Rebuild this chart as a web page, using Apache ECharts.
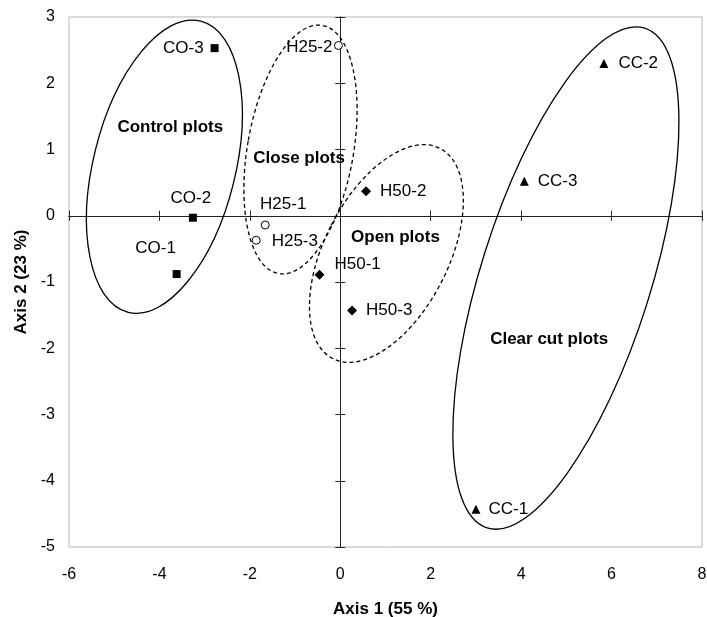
<!DOCTYPE html>
<html>
<head>
<meta charset="utf-8">
<script src="https://cdn.jsdelivr.net/npm/echarts@6/dist/echarts.min.js"></script>
<style>
html,body{margin:0;padding:0;background:#fff;}
#chart{width:707px;height:617px;}
</style>
</head>
<body>
<div id="chart"></div>
<script>
// ---- Data ----
const xTicks = [-6, -4, -2, 0, 2, 4, 6, 8];
const yTicks = [-5, -4, -3, -2, -1, 0, 1, 2, 3];

const controlNames = ['CO-1', 'CO-2', 'CO-3'];
const controlX = [-3.62, -3.26, -2.78];
const controlY = [-0.88, -0.03, 2.53];

const closeNames = ['H25-1', 'H25-2', 'H25-3'];
const closeX = [-1.66, -0.04, -1.86];
const closeY = [-0.14, 2.57, -0.37];

const openNames = ['H50-1', 'H50-2', 'H50-3'];
const openX = [-0.46, 0.57, 0.26];
const openY = [-0.89, 0.37, -1.43];

const clearNames = ['CC-1', 'CC-2', 'CC-3'];
const clearX = [3.00, 5.83, 4.07];
const clearY = [-4.43, 2.30, 0.52];

const groupLabels = ['Control plots', 'Close plots', 'Open plots', 'Clear cut plots'];
const groupLabelX = [-3.76, -0.91, 1.22, 4.62];
const groupLabelY = [1.34, 0.86, -0.32, -1.87];

// group envelope centres (data units)
const envelopeX = [-3.89, -0.88, 1.02, 4.99];
const envelopeY = [0.74, 1.00, -0.57, -0.94];

// ---- Styling / layout (not data) ----
const FONT = 'Liberation Sans, Arial, sans-serif';
// semi-axes in pixels and tilt of the major axis from vertical (degrees, clockwise)
const envelopeShape = [
  { rMinor: 71, rMajor: 150, tilt: 14, dashed: false },
  { rMinor: 53, rMajor: 126, tilt: 10, dashed: true },
  { rMinor: 62, rMajor: 118, tilt: 27, dashed: true },
  { rMinor: 85, rMajor: 262, tilt: 17.5, dashed: false }
];
const labelPlacement = {
  'CO-1': ['top', -21, -8.5],
  'CO-2': ['top', -2, -1.5],
  'CO-3': ['left', -2, 0],
  'H25-1': ['top', 18, -2.5],
  'H25-2': ['left', 3.5, 2],
  'H25-3': ['right', 6, 1.5],
  'H50-1': ['right', 5, -10],
  'H50-2': ['right', 4, 0],
  'H50-3': ['right', 4, 0],
  'CC-1': ['right', 3, 0],
  'CC-2': ['right', 5, 0],
  'CC-3': ['right', 4, 0]
};

function buildData(names, xs, ys) {
  return names.map((n, i) => {
    const p = labelPlacement[n];
    return {
      name: n,
      value: [xs[i], ys[i]],
      label: { position: p[0], offset: [p[1], p[2]] }
    };
  });
}

const pointLabel = {
  show: true,
  formatter: '{b}',
  color: '#000',
  opacity: 1,
  fontFamily: FONT,
  fontSize: 17,
  distance: 5
};

function scatter(name, data, symbol, size, itemStyle) {
  return {
    type: 'scatter',
    name: name,
    xAxisIndex: 0,
    yAxisIndex: 0,
    data: data,
    symbol: symbol,
    symbolSize: size,
    itemStyle: Object.assign({ opacity: 1 }, itemStyle),
    label: pointLabel,
    emphasis: { disabled: true },
    z: 5
  };
}

const xMin = xTicks[0], xMax = xTicks[xTicks.length - 1], xStep = xTicks[1] - xTicks[0];
const yMin = yTicks[0], yMax = yTicks[yTicks.length - 1], yStep = yTicks[1] - yTicks[0];

function zeroAxis(kind, inside) {
  return {
    type: 'value',
    min: kind === 'x' ? xMin : yMin,
    max: kind === 'x' ? xMax : yMax,
    interval: kind === 'x' ? xStep : yStep,
    position: kind === 'x' ? 'bottom' : 'left',
    axisLine: { show: true, onZero: true, onZeroAxisIndex: 0, lineStyle: { color: '#222', width: 1 } },
    axisTick: { show: true, inside: inside, length: 5, lineStyle: { color: '#222', width: 1 } },
    axisLabel: { show: false },
    splitLine: { show: false }
  };
}

const chart = echarts.init(document.getElementById('chart'), null, { renderer: 'canvas' });

chart.setOption({
  animation: false,
  backgroundColor: '#fff',
  grid: {
    left: 69, right: 5, top: 17, bottom: 70,
    containLabel: false,
    outerBoundsMode: 'none',
    show: true, borderColor: '#b4b4b4', borderWidth: 1, backgroundColor: 'transparent'
  },
  xAxis: [
    {
      type: 'value', min: xMin, max: xMax, interval: xStep, position: 'bottom',
      axisLine: { show: false, onZero: false },
      axisTick: { show: false },
      splitLine: { show: false },
      axisLabel: { color: '#000', fontFamily: FONT, fontSize: 16, margin: 20 },
      name: 'Axis 1 (55 %)', nameLocation: 'middle', nameGap: 54,
      nameTextStyle: { color: '#000', fontFamily: FONT, fontSize: 17, fontWeight: 'bold' }
    },
    zeroAxis('x', false),
    zeroAxis('x', true)
  ],
  yAxis: [
    {
      type: 'value', min: yMin, max: yMax, interval: yStep, position: 'left',
      axisLine: { show: false, onZero: false },
      axisTick: { show: false },
      splitLine: { show: false },
      axisLabel: { color: '#000', fontFamily: FONT, fontSize: 16, margin: 14 },
      name: 'Axis 2 (23 %)', nameLocation: 'middle', nameGap: 31,
      nameTextStyle: { color: '#000', fontFamily: FONT, fontSize: 17, fontWeight: 'bold' }
    },
    zeroAxis('y', false),
    zeroAxis('y', true)
  ],
  series: [
    scatter('Control', buildData(controlNames, controlX, controlY), 'rect', 8, { color: '#000' }),
    scatter('Close', buildData(closeNames, closeX, closeY), 'circle', 8,
      { color: '#fff', borderColor: '#000', borderWidth: 1 }),
    scatter('Open', buildData(openNames, openX, openY), 'diamond', 10, { color: '#000' }),
    scatter('Clear cut', buildData(clearNames, clearX, clearY), 'triangle', 9, { color: '#000' })
  ]
});

// envelopes and group names, positioned through the chart's own coordinate system
const graphics = [];
envelopeX.forEach((cx, i) => {
  const c = chart.convertToPixel({ gridIndex: 0 }, [cx, envelopeY[i]]);
  const s = envelopeShape[i];
  graphics.push({
    type: 'ellipse',
    x: c[0], y: c[1],
    rotation: -s.tilt * Math.PI / 180,
    shape: { cx: 0, cy: 0, rx: s.rMinor, ry: s.rMajor },
    style: { fill: null, stroke: '#000', lineWidth: 1.3, lineDash: s.dashed ? [4, 3] : null },
    silent: true,
    z: 3
  });
});
groupLabels.forEach((t, i) => {
  const c = chart.convertToPixel({ gridIndex: 0 }, [groupLabelX[i], groupLabelY[i]]);
  graphics.push({
    type: 'text',
    x: c[0], y: c[1],
    style: {
      text: t, fill: '#000', font: 'bold 17px ' + FONT,
      textAlign: 'center', textVerticalAlign: 'middle'
    },
    silent: true,
    z: 4
  });
});
chart.setOption({ graphic: graphics });
</script>
</body>
</html>
